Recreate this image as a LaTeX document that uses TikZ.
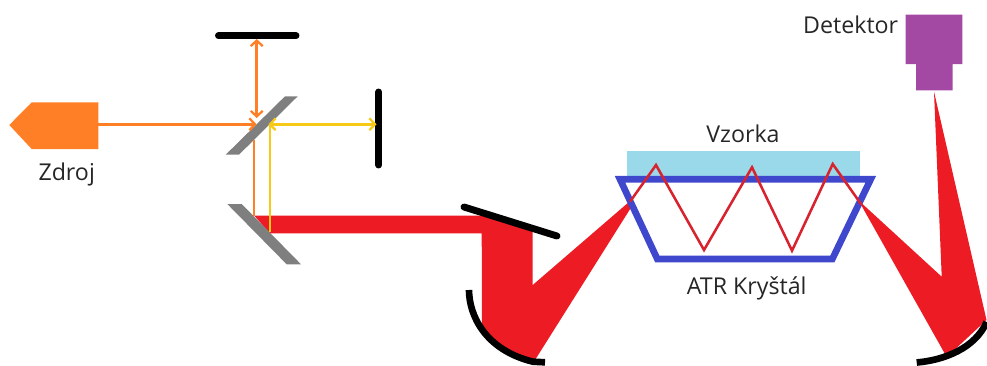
\documentclass[tikz,border=0pt]{standalone}
\usepackage{fontspec}
\setmainfont{Open Sans}
\usetikzlibrary{arrows.meta}
\definecolor{cOrange}{HTML}{FF7F27}
\definecolor{cYellow}{HTML}{F7CA18}
\definecolor{cRed}{HTML}{ED1C24}
\definecolor{cZig}{HTML}{D8232F}
\definecolor{cBlue}{HTML}{3F48CC}
\definecolor{cGrey}{HTML}{7F7F7F}
\definecolor{cSample}{HTML}{99D9EA}
\definecolor{cPurple}{HTML}{A349A4}
\tikzset{
  x=0.75pt,y=-0.75pt,
  barb/.tip={Straight Barb[length=4.2pt,width=9pt,line width=1.7pt]},
  ray/.style={line width=1.9pt},
  mirrorblack/.style={line width=5.2pt,black,line cap=round},
  label/.style={font=\fontsize{17.4pt}{20pt}\selectfont,text=black!85,inner sep=0pt,anchor=center},
}
\begin{document}
\begin{tikzpicture}
\useasboundingbox (0,0) rectangle (987,365);
\begin{scope}
\clip (0,0) rectangle (987,365);
% source
\fill[cOrange] (9.3,125) -- (31.7,102.3) -- (98.3,102.3) -- (98.3,149) -- (31.7,149) -- cycle;
% sample
\fill[cSample] (626.7,150.7) rectangle (860,177);
% red beams
\fill[cRed] (254,215.5) -- (490,215.5) -- (532.7,230) -- (532.7,285) -- (629.3,201.7) -- (632,206) -- (535,360) -- (507,353) -- (482,331) -- (481.7,233.3) -- (270,233.3) -- cycle;
\fill[cRed] (861.7,203.3) -- (941.7,276.7) -- (934,91.7) -- (986.5,320) -- (946.7,357) -- (861.7,206) -- cycle;
% grey mirrors
\fill[cGrey] (285,96.3) -- (297.7,96.3) -- (239,154.7) -- (225.7,154.7) -- cycle;
\fill[cGrey] (227.3,204) -- (241.7,204) -- (301,264.3) -- (286.7,264.3) -- cycle;
% black mirrors
\draw[mirrorblack] (218.5,35.7) -- (296,35.7);
\draw[mirrorblack] (378.7,92) -- (378.7,165);
\draw[mirrorblack] (464,207) -- (557,236);
\draw[line width=5pt,black] (469,290) .. controls (469,315) and (485,350) .. (533,361.7) -- (545,362.3);
\draw[line width=5pt,black] (916.7,362.5) .. controls (945,360) and (975,348) .. (986.7,322);
% crystal
\draw[cBlue,line width=5pt,miter limit=10] (620,179.3) -- (870.7,179.3) -- (832.3,259) -- (657.3,259) -- cycle;
% zigzag
\draw[cZig,line width=1.9pt,line join=miter] (630,201.7) -- (656,165) -- (704,250) -- (752,167.3) -- (792,250.7) -- (832.7,164) -- (861.7,205);
% rays
\coordinate (srcR) at (98.3,124.3);
\coordinate (bsL) at (256.5,124.3);
\coordinate (topM) at (256.7,39);
\coordinate (bsT) at (256.7,118);
\coordinate (bsB) at (254,140);
\coordinate (lowM) at (254,216);
\coordinate (bsR) at (268.5,124.3);
\coordinate (rightM) at (376.5,124.3);
\coordinate (yBend) at (270,124.3);
\coordinate (yLow) at (270,231.7);
\draw[ray,cOrange,-{barb}] (srcR) -- (bsL);
\draw[ray,cOrange,{barb}-{barb}] (topM) -- (bsT);
\draw[ray,cOrange] (bsB) -- (lowM);
\draw[ray,cYellow] (yLow) -- (yBend);
\draw[ray,cYellow,{barb}-{barb}] (bsR) -- (rightM);
% detector
\fill[cPurple] (905.7,14.7) -- (962.3,14.7) -- (962.3,64) -- (952.7,64) -- (952.7,90.3) -- (916,90.3) -- (916,64) -- (905.7,64) -- cycle;
\end{scope}
% labels
\node[label] (zdroj) at (66.7,174) {Zdroj};
\node[label] (det) at (850.7,25) {Detektor};
\node[label] (vz) at (743,134) {Vzorka};
\node[label] (atr) at (746.7,288) {ATR Kryštál};
\end{tikzpicture}
\end{document}
